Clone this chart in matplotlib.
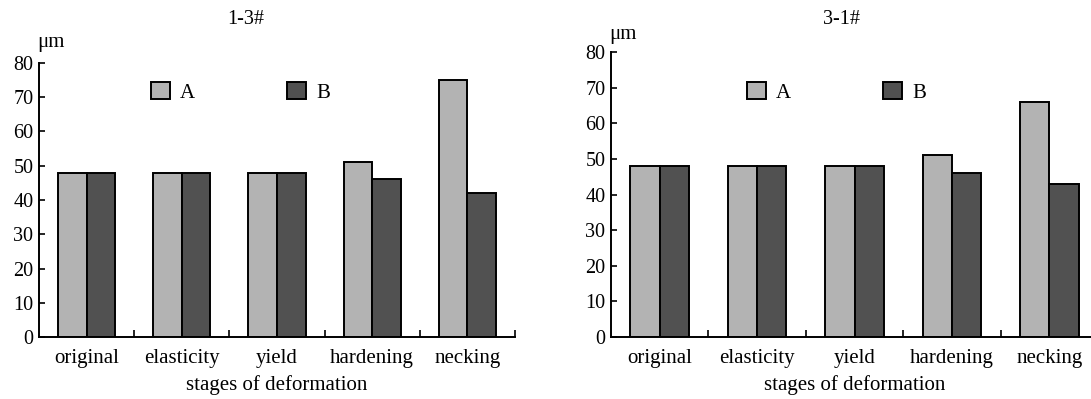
import numpy as np
import matplotlib
matplotlib.use("Agg")
import matplotlib.pyplot as plt

plt.rcParams['font.family'] = ['Liberation Serif', 'DejaVu Serif']

stages = ['original', 'elasticity', 'yield', 'hardening', 'necking']
a_13 = [48, 48, 48, 51, 75]
b_13 = [48, 48, 48, 46, 42]
a_31 = [48, 48, 48, 51, 66]
b_31 = [48, 48, 48, 46, 43]
yticks = [0, 10, 20, 30, 40, 50, 60, 70, 80]

light = '#b3b3b3'
dark = '#515151'

fig = plt.figure(figsize=(10.91, 3.99), dpi=100)
W, H = 1091.0, 399.0


def draw(ax, a, b, legend_xy):
    x = np.arange(len(stages))
    w = 0.3
    ba = ax.bar(x - w / 2, a, width=w, color=light, edgecolor='black', linewidth=1.4, label='A')
    bb = ax.bar(x + w / 2, b, width=w, color=dark, edgecolor='black', linewidth=1.4, label='B')
    ax.set_xlim(-0.5, len(stages) - 0.5)
    ax.set_ylim(0, 80)
    ax.set_yticks(yticks)
    ax.tick_params(axis='y', direction='in', length=4, width=1.2, labelsize=14.5, pad=4)
    # boundary ticks between stages, labels at stage centres
    ax.set_xticks(np.arange(len(stages)) + 0.5)
    ax.set_xticklabels([])
    ax.tick_params(axis='x', which='major', direction='in', length=5, width=1.2)
    ax.set_xticks(x, minor=True)
    ax.set_xticklabels(stages, minor=True, fontsize=15)
    ax.tick_params(axis='x', which='minor', length=0, pad=9)
    for s in ['top', 'right']:
        ax.spines[s].set_visible(False)
    for s in ['left', 'bottom']:
        ax.spines[s].set_linewidth(1.4)
    ax.set_xlabel('stages of deformation', fontsize=15, labelpad=5)
    ax.legend(handles=[ba, bb], loc='center left', bbox_to_anchor=legend_xy, ncol=2,
              frameon=False, fontsize=15, handlelength=0.9, handleheight=0.9,
              handletextpad=0.5, columnspacing=4.4, borderpad=0, borderaxespad=0)


ax1 = fig.add_axes([39 / W, 62 / H, 476 / W, 274 / H])
draw(ax1, a_13, b_13, (0.235, 0.892))
ax2 = fig.add_axes([611 / W, 62 / H, 487 / W, 285 / H])
draw(ax2, a_31, b_31, (0.279, 0.858))

fig.text(246 / W, 1 - 19 / H, '1-3#', ha='center', va='center', fontsize=14.5)
fig.text(841 / W, 1 - 19 / H, '3-1#', ha='center', va='center', fontsize=14.5)
fig.text(37 / W, 1 - 42 / H, 'μm', ha='left', va='center', fontsize=15)
fig.text(609 / W, 1 - 34 / H, 'μm', ha='left', va='center', fontsize=15)

fig.savefig('out.png', dpi=100)
